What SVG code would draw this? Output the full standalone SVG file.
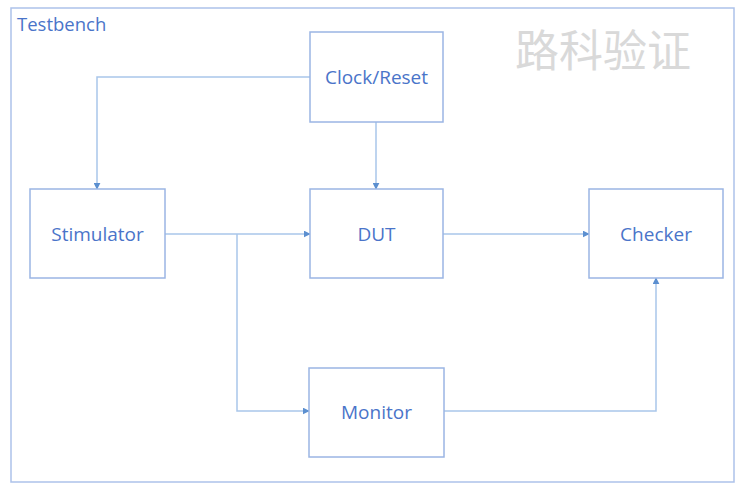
<svg xmlns="http://www.w3.org/2000/svg" width="741" height="492" viewBox="0 0 741 492">
<style>
.box{fill:#ffffff;stroke:#9bb5e4;stroke-width:1.5}
.lbl{font-family:"Open Sans","Liberation Sans",sans-serif;font-size:19px;fill:#4a74c9;text-anchor:middle;dominant-baseline:central}
.ln{fill:none;stroke:#a9c6ea;stroke-width:1.5}
</style>
<defs>
<marker id="ah" viewBox="0 0 10 10" refX="9" refY="5" markerWidth="7" markerHeight="7" orient="auto" markerUnits="userSpaceOnUse">
<path d="M0,0 L10,5 L0,10 z" fill="#5b8fd0"/>
</marker>
</defs>
<rect width="741" height="492" fill="#ffffff"/>
<g id="frame">
<rect x="11" y="8" width="723" height="474" fill="none" stroke="#adc2ea" stroke-width="1.5"/>
<text x="17" y="31" font-family="'Open Sans','Liberation Sans',sans-serif" font-size="18.5" fill="#4a74c9">Testbench</text>
</g>
<text x="515" y="67" font-family="'Noto Sans CJK SC',sans-serif" font-size="44" fill="#d9d9d9">路科验证</text>
<g id="connectors">
<path class="ln" d="M310,77 H97 V189" marker-end="url(#ah)"/>
<path class="ln" d="M376,122 V189" marker-end="url(#ah)"/>
<path class="ln" d="M165,234 H310" marker-end="url(#ah)"/>
<path class="ln" d="M237,234 V411 H309" marker-end="url(#ah)"/>
<path class="ln" d="M443,234 H589" marker-end="url(#ah)"/>
<path class="ln" d="M444,411 H656 V278" marker-end="url(#ah)"/>
</g>
<g id="clock"><rect class="box" x="310" y="32" width="133" height="90"/><text class="lbl" x="376.5" y="77">Clock/Reset</text></g>
<g id="stimulator"><rect class="box" x="30" y="189" width="135" height="89"/><text class="lbl" x="97.5" y="234">Stimulator</text></g>
<g id="dut"><rect class="box" x="310" y="189" width="133" height="89"/><text class="lbl" x="376.5" y="234">DUT</text></g>
<g id="checker"><rect class="box" x="589" y="189" width="134" height="89"/><text class="lbl" x="656" y="234">Checker</text></g>
<g id="monitor"><rect class="box" x="309" y="368" width="135" height="89"/><text class="lbl" x="376.5" y="412">Monitor</text></g>
</svg>
